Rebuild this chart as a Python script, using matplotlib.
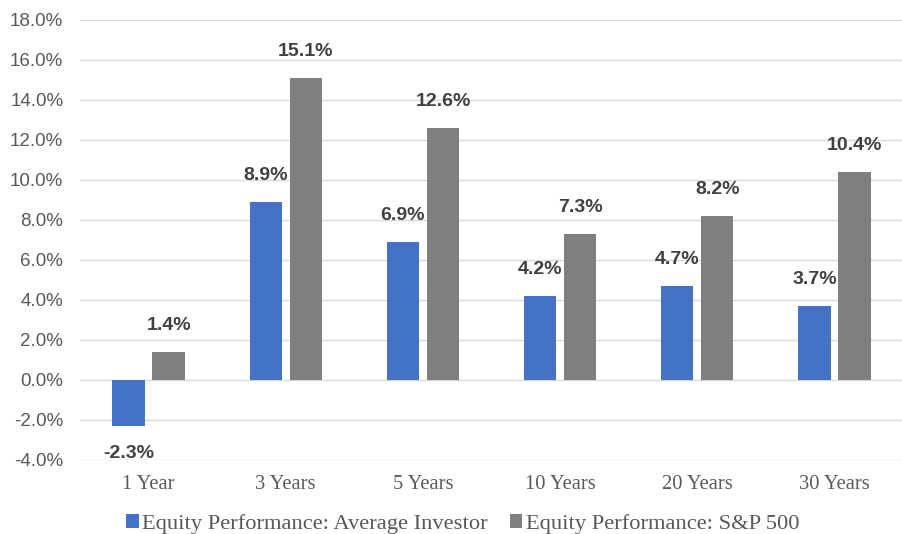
import matplotlib.pyplot as plt
import numpy as np

categories = ["1 Year", "3 Years", "5 Years", "10 Years", "20 Years", "30 Years"]
investor = [-2.3, 8.9, 6.9, 4.2, 4.7, 3.7]
sp500 = [1.4, 15.1, 12.6, 7.3, 8.2, 10.4]
series_names = ["Equity Performance: Average Investor", "Equity Performance: S&P 500"]

blue = "#4472C4"
grey = "#7F7F7F"
serif = "Liberation Serif"

fig = plt.figure(figsize=(9.03, 5.34), dpi=100)
ax = fig.add_axes([80 / 903, 1 - 460 / 534, 823 / 903, 440 / 534])

x = np.arange(len(categories))
w = 0.235
off = 0.146
b1 = ax.bar(x - off, investor, w, color=blue, label=series_names[0], zorder=3)
b2 = ax.bar(x + off, sp500, w, color=grey, label=series_names[1], zorder=3)

for bars, vals in [(b1, investor), (b2, sp500)]:
    for b, v in zip(bars, vals):
        cx = b.get_x() + b.get_width() / 2
        y = v + 1.35 if v >= 0 else v - 1.35
        ax.text(cx, y, f"{v:.1f}%", ha="center", va="center",
                fontsize=14, fontweight="bold", color="#404040",
                family="Liberation Sans")

ax.set_xlim(-0.5, 5.5)
ax.set_ylim(-4, 18)
ax.set_yticks(np.arange(-4, 19, 2))
ax.set_yticklabels([f"{t:.1f}%" for t in np.arange(-4, 19, 2)],
                   family="Liberation Sans", fontsize=13.5, color="#595959")
ax.set_xticks(x)
ax.set_xticklabels(categories, family=serif, fontsize=14.8, color="#595959")
ax.tick_params(length=0)
ax.tick_params(axis="y", pad=12)
ax.tick_params(axis="x", pad=11)
ax.grid(axis="y", color="#D9D9D9", linewidth=1, zorder=0)
for s in ax.spines.values():
    s.set_visible(False)

ax.legend(loc="center", bbox_to_anchor=(0.465, -0.145), ncol=2, frameon=False,
          prop={"family": serif, "size": 16.2}, labelcolor="#595959",
          handlelength=0.55, handleheight=0.55, handletextpad=0.15, columnspacing=1.0,
          borderpad=0.1)

fig.savefig("out.png", dpi=100)
